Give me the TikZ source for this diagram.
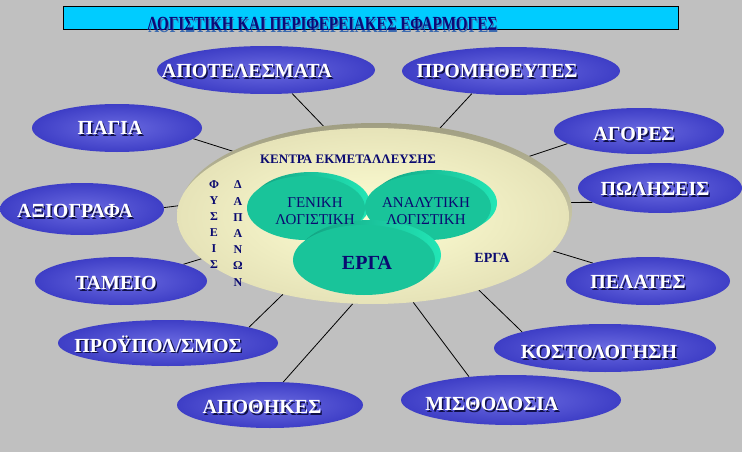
\documentclass[tikz,border=0pt]{standalone}
\usepackage{graphicx}
\usepackage{fontspec}
\setmainfont{Liberation Serif}
\usetikzlibrary{shapes.geometric}

\definecolor{bggray}{HTML}{C0C0C0}
\definecolor{titlecyan}{HTML}{00CCFF}
\definecolor{titlenavy}{HTML}{0A0A78}
\definecolor{titleshadow}{HTML}{3A6AB0}
\definecolor{bubblelight}{HTML}{6A6AE0}
\definecolor{bubbledark}{HTML}{3E3EC6}
\definecolor{shadownavy}{HTML}{101048}
\definecolor{rimdark}{HTML}{A09E82}
\definecolor{rimlight}{HTML}{E6E4C0}
\definecolor{paleyellow}{HTML}{FFFFD4}
\definecolor{palebeige}{HTML}{E6E3B8}
\definecolor{greenmain}{HTML}{19C49A}
\definecolor{greendark}{HTML}{12A080}
\definecolor{greenlight}{HTML}{22E6B6}
\definecolor{textnavy}{HTML}{0A0A70}

% white text with a dark shadow
\newcommand{\shtext}[3]{\leavevmode\rlap{\kern1.5pt\raisebox{-1.5pt}{\color{#2}#3}}{\color{#1}#3}}

\pgfdeclarelayer{bg}
\pgfdeclarelayer{links}
\pgfsetlayers{bg,links,main}

\tikzset{
  bubble/.style={ellipse,inner sep=0pt,shading=radial,inner color=bubblelight,outer color=bubbledark},
  bubtext/.style={inner sep=0pt,font=\fontsize{20}{22}\selectfont\bfseries},
  greenrim/.style={ellipse,inner sep=0pt,left color=greendark,right color=greenlight},
  greenface/.style={ellipse,inner sep=0pt,fill=greenmain},
  innertext/.style={inner sep=0pt,text=textnavy,align=center},
  letter/.style={inner sep=0pt,text=textnavy,font=\fontsize{12}{13}\selectfont\bfseries},
  link/.style={black,line width=0.8pt}
}

\begin{document}
\begin{tikzpicture}[x=1pt,y=-1pt]
\begin{pgfonlayer}{bg}
\fill[bggray] (0,0) rectangle (742,452);
\end{pgfonlayer}

% title bar
\node[draw=black,line width=1pt,fill=titlecyan,minimum width=615pt,minimum height=23pt,inner sep=0pt] (title) at (370.5,18.5) {};
\node[anchor=base west,inner sep=0pt,font=\fontsize{20}{22}\selectfont\bfseries] (title-t) at (147,31)
  {\resizebox{350pt}{\height}{\shtext{titlenavy}{titleshadow}{ΛΟΓΙΣΤΙΚΗ ΚΑΙ ΠΕΡΙΦΕΡΕΙΑΚΕΣ ΕΦΑΡΜΟΓΕΣ}}};

% big centre disc
\node[ellipse,inner sep=0pt,minimum width=392pt,minimum height=176pt,top color=rimdark,middle color=rimlight,bottom color=rimlight] (kentro-rim) at (376,211) {};
\node[ellipse,inner sep=0pt,minimum width=392pt,minimum height=176pt,shading=radial,inner color=paleyellow,outer color=palebeige] (kentro) at (373,216) {};

% green discs
\node[greenrim,minimum width=118pt,minimum height=64pt] (genikh-rim) at (311,204) {};
\node[greenface,minimum width=118pt,minimum height=64pt] (genikh) at (306,208) {};
\node[greenrim,minimum width=126pt,minimum height=66pt] (anal-rim) at (434,203) {};
\node[greenface,minimum width=126pt,minimum height=66pt] (anal) at (428,207) {};
\node[greenrim,minimum width=142pt,minimum height=70pt] (erga-rim) at (370,255) {};
\node[greenface,minimum width=142pt,minimum height=70pt] (erga) at (364,260) {};

\node[innertext,font=\fontsize{13}{14}\selectfont\bfseries] (kentra-t) at (348,159) {ΚΕΝΤΡΑ ΕΚΜΕΤΑΛΛΕΥΣΗΣ};
\node[innertext,font=\fontsize{15}{17}\selectfont] (genikh-t) at (315,211) {ΓΕΝΙΚΗ\\ΛΟΓΙΣΤΙΚΗ};
\node[innertext,font=\fontsize{15}{17}\selectfont] (anal-t) at (426,211) {ΑΝΑΛΥΤΙΚΗ\\ΛΟΓΙΣΤΙΚΗ};
\node[innertext,font=\fontsize{20}{22}\selectfont\bfseries] (erga-t) at (367,263) {ΕΡΓΑ};
\node[innertext,font=\fontsize{14}{16}\selectfont\bfseries] (erga2-t) at (492,258) {ΕΡΓΑ};

\foreach \ch [count=\i] in {Φ,Υ,Σ,Ε,Ι,Σ}
  \node[letter] (fys-\i) at (214,{185+16*(\i-1)}) {\ch};
\foreach \ch [count=\i] in {Δ,Α,Π,Α,Ν,Ω,Ν}
  \node[letter] (dap-\i) at (238,{185+16.2*(\i-1)}) {\ch};

% outer bubbles
\foreach \nm/\cx/\cy/\w/\h/\tx/\ty/\lbl in {
    apot/266/70/218/48/247/72/ΑΠΟΤΕΛΕΣΜΑΤΑ,
    pagia/117/128/170/48/110/129/ΠΑΓΙΑ,
    prom/511/71/218/48/497/72/ΠΡΟΜΗΘΕΥΤΕΣ,
    agores/639/131/170/46/634/135/ΑΓΟΡΕΣ,
    polhseis/660/188/164/50/655/190/ΠΩΛΗΣΕΙΣ,
    axiogr/82/209/164/52/75/212/ΑΞΙΟΓΡΑΦΑ,
    tameio/121/281/172/48/116/284/ΤΑΜΕΙΟ,
    proyp/168/343/220/46/158/345/ΠΡΟΫΠΟΛ\slash ΣΜΟΣ,
    apoth/270/405/186/46/262/408/ΑΠΟΘΗΚΕΣ,
    misth/511/400/220/50/492/405/ΜΙΣΘΟΔΟΣΙΑ,
    kost/605/348/222/48/599/353/ΚΟΣΤΟΛΟΓΗΣΗ,
    pelates/648/281/164/48/638/283/ΠΕΛΑΤΕΣ} {
  \node[bubble,minimum width=\w pt,minimum height=\h pt] (\nm) at (\cx,\cy) {};
  \node[bubtext] (\nm-t) at (\tx,\ty) {\shtext{white}{shadownavy}{\lbl}};
}

% connectors behind the discs
\begin{pgfonlayer}{links}
\foreach \nm/\a/\b in {apot/-42/118, pagia/-8/155, prom/210/53, agores/190/21,
    polhseis/192/4, axiogr/1/177, tameio/15/194, proyp/11/221, apoth/60/257,
    misth/151/295, kost/169/325, pelates/162/349}
  \draw[link] (\nm.\a) -- (kentro.\b);
\end{pgfonlayer}
\end{tikzpicture}
\end{document}
